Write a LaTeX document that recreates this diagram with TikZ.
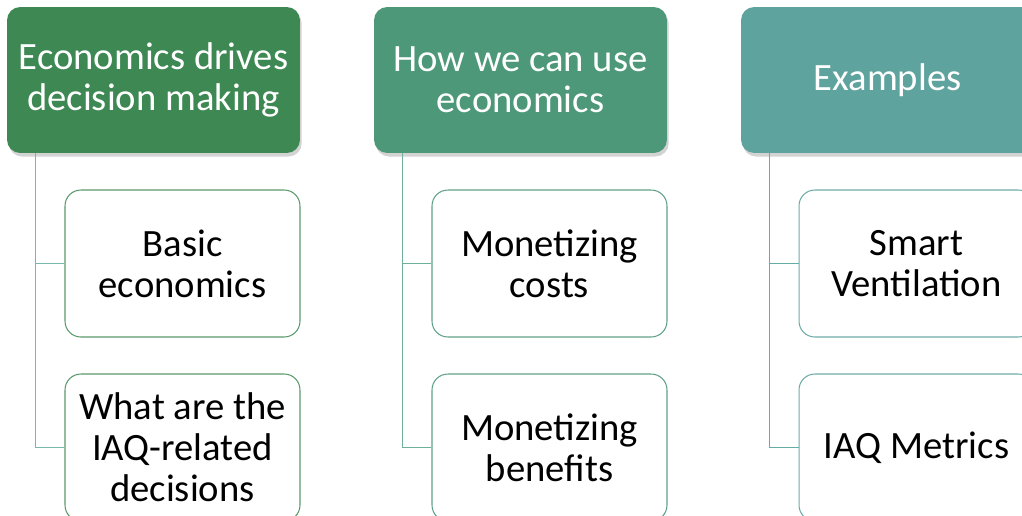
\documentclass[tikz,border=0pt]{standalone}
\usepackage{fontspec}
\setmainfont{Carlito}
\usetikzlibrary{calc,shadows}
\definecolor{hdA}{RGB}{62,136,83}
\definecolor{hdB}{RGB}{78,152,122}
\definecolor{hdC}{RGB}{95,163,158}
\definecolor{lnA}{RGB}{120,184,172}
\definecolor{lnB}{RGB}{110,176,156}
\definecolor{lnC}{RGB}{100,172,166}
\begin{document}
\begin{tikzpicture}[x=0.02cm,y=-0.02cm]
\tikzstyle{every node}+=[inner sep=0pt, align=center, font=\fontsize{22}{23.3}\selectfont]
\tikzstyle{head}=[rounded corners=7.5pt, minimum width=5.86cm, minimum height=2.92cm, text=white, drop shadow={shadow xshift=1pt, shadow yshift=-2pt, opacity=0.35}]
\tikzstyle{item}=[draw, line width=0.6pt, fill=white, rounded corners=9pt, minimum width=4.7cm, minimum height=2.94cm]
\useasboundingbox (0,0) rectangle (1022,515);
\clip (0,0) rectangle (1022,515);
% headers
\node [head, fill=hdA] (econ) at (153.5,80) {Economics drives\\decision making};
\node [head, fill=hdB] (use) at (520.5,80) {How we can use\\economics};
\node [head, fill=hdC] (ex) at (887.5,80) {Examples};
% sub items
\node [item, draw=hdA!85] (basic) at (182.5,263.5) {Basic\\economics};
\node [item, draw=hdA!85] (iaqdec) at (182.5,447.5) {What are the\\IAQ-related\\decisions};
\node [item, draw=hdB!90] (costs) at (549.5,263.5) {Monetizing\\costs};
\node [item, draw=hdB!90] (benef) at (549.5,447.5) {Monetizing\\benefits};
\node [item, draw=hdC!90] (smart) at (916.5,263.5) {Smart\\Ventilation};
\node [item, draw=hdC!90] (metric) at (916.5,447.5) {IAQ Metrics};
% connectors
\coordinate (tA) at ($(econ.south west)+(29,0)$);
\coordinate (tB) at ($(use.south west)+(29,0)$);
\coordinate (tC) at ($(ex.south west)+(29,0)$);
\draw [lnA, line width=0.7pt] (tA) |- (basic.west);
\draw [lnA, line width=0.7pt] (tA) |- (iaqdec.west);
\draw [lnB, line width=0.7pt] (tB) |- (costs.west);
\draw [lnB, line width=0.7pt] (tB) |- (benef.west);
\draw [lnC, line width=0.7pt] (tC) |- (smart.west);
\draw [lnC, line width=0.7pt] (tC) |- (metric.west);
\end{tikzpicture}
\end{document}
